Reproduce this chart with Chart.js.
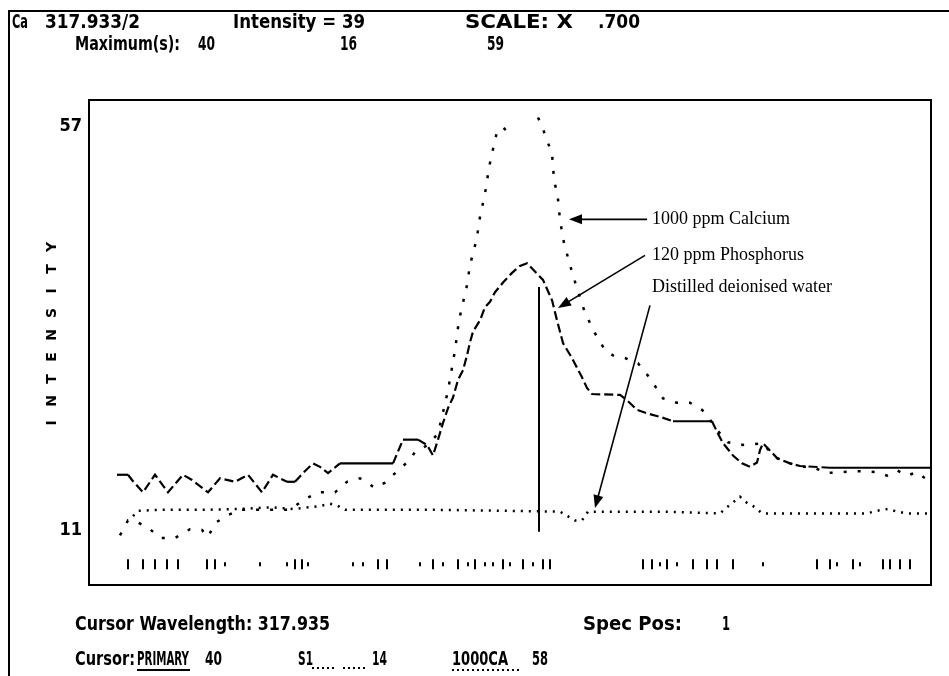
<!DOCTYPE html>
<html>
<head>
<meta charset="utf-8">
<script src="https://cdn.jsdelivr.net/npm/chart.js@4.4.1/dist/chart.umd.min.js"></script>
<style>
  html, body { margin: 0; padding: 0; background: #fff; }
  #wrap { width: 949px; height: 676px; position: relative; }
</style>
</head>
<body>
<div id="wrap"><canvas id="chart"></canvas></div>
<script>
// x = channel along the scan window, y = intensity
const caX = [31, 39, 48, 59, 71, 86, 101, 113, 119, 126, 139, 151, 176, 201, 214, 229, 246, 258, 271, 286, 296, 309, 321, 326, 339, 349, 353, 359, 363, 366, 370, 374, 378, 381, 388, 390, 395, 397, 400, 404, 408, 414, 419, 434, 449, 453, 459, 463, 465, 469, 471, 475, 481, 487, 495, 504, 516, 524, 536, 549, 561, 574, 588, 601, 613, 618, 628, 639, 654, 666, 674, 678, 688, 701, 711, 723, 738, 751, 771, 788, 798, 808, 818, 828, 836, 841];
const caY = [10.4, 12.1, 11.9, 11.3, 10.1, 10.1, 11.1, 11.0, 10.2, 11.8, 12.7, 13.3, 13.3, 13.3, 14.4, 15.3, 15.3, 16.5, 16.9, 15.8, 16.4, 17.8, 19.0, 19.9, 20.7, 22.0, 23.9, 26.9, 29.5, 31.5, 34.9, 36.9, 38.9, 41.2, 44.3, 46.1, 48.8, 50.0, 52.3, 54.4, 56.4, 56.9, 56.3, null, 58.0, 57.0, 55.1, 53.9, 51.0, 48.7, 46.3, 43.7, 41.2, 38.9, 36.1, 33.8, 31.5, 30.9, 30.6, 30.0, 28.3, 26.0, 25.5, 25.5, 24.7, 24.1, 22.4, 21.0, 20.7, 20.8, 20.9, 20.3, 19.2, 18.6, 18.2, 18.2, 17.5, 17.6, 17.7, 17.6, 17.2, 17.8, 17.2, 17.6, 16.9, 17.4];

const pX = [28, 39, 43, 54, 66, 79, 88, 94, 103, 119, 131, 146, 159, 173, 184, 198, 206, 214, 224, 231, 239, 251, 304, 314, 329, 338, 344, 349, 354, 359, 364, 369, 374, 378, 381, 384, 391, 396, 401, 406, 414, 423, 431, 438, 454, 463, 468, 474, 483, 493, 498, 503, 531, 538, 548, 558, 571, 584, 623, 628, 634, 644, 653, 661, 668, 671, 674, 679, 688, 701, 711, 741, 841];
const pY = [17.3, 17.3, 16.7, 15.3, 17.3, 15.3, 16.5, 17.3, 16.7, 15.3, 16.9, 16.5, 17.3, 15.3, 17.3, 16.5, 16.5, 17.5, 18.6, 18.2, 17.5, 18.6, 18.6, 21.3, 21.3, 20.7, 19.5, 21.3, 23.2, 24.9, 26.1, 28.1, 29.2, 30.9, 32.4, 33.6, 34.9, 36.4, 37.0, 38.1, 39.2, 40.3, 41.1, 41.4, 39.5, 37.2, 34.9, 32.3, 30.6, 28.4, 27.2, 26.5, 26.4, 25.8, 24.7, 24.3, 23.9, 23.4, 23.4, 22.2, 20.9, 19.5, 18.6, 18.2, 18.7, 20.1, 20.9, 20.3, 19.2, 18.6, 18.3, 18.1, 18.1];

const waterX = [44, 49, 71, 111, 151, 183, 193, 204, 229, 241, 248, 256, 351, 471, 486, 493, 499, 571, 631, 638, 651, 658, 666, 673, 778, 788, 799, 808, 818, 841];
const waterY = [12.6, 13.2, 13.3, 13.3, 13.4, 13.6, 13.5, 13.4, 13.7, 14.0, 13.8, 13.3, 13.3, 13.1, 12.1, 12.1, 13.1, 13.1, 12.9, 13.6, 14.8, 14.1, 13.6, 12.9, 12.9, 13.2, 13.4, 13.1, 12.9, 12.9];

const cursorX = 450;
const cursorSpan = [38.7, 10.8];

const markerRowY = 7.1;
const longMarkX = [39, 54, 66, 78, 89, 118, 126, 206, 213, 289, 298, 344, 369, 386, 414, 434, 454, 461, 554, 563, 578, 604, 618, 628, 644, 728, 741, 764, 794, 801, 811, 821];
const shortMarkX = [136, 171, 198, 219, 264, 274, 331, 354, 379, 396, 404, 421, 444, 571, 588, 674, 748, 771];

const yTickValues = [11, 57];

const calloutText = ['1000 ppm Calcium', '120 ppm Phosphorus', 'Distilled deionised water'];
const calloutAt = [[563, 46.4], [563, 42.3], [563, 38.7]];
const arrowFrom = [[558, 46.4], [556, 42.3], [561, 36.6]];
const arrowTo = [[480, 46.4], [469, 36.3], [506, 13.5]];

const pts = (xs, ys) => xs.map((x, i) => ({ x: x, y: ys[i] }));
const flat = (xs, y) => xs.map(x => ({ x: x, y: y }));

const dosFont = '"Liberation Sans Narrow", "DejaVu Sans Condensed", "Arial Narrow", sans-serif';

function fitText(ctx, text, x, y, width) {
    const w = ctx.measureText(text).width;
    ctx.save();
    ctx.translate(x, y);
    ctx.scale(width / w, 1);
    ctx.fillText(text, 0, 0);
    ctx.restore();
}

function arrow(ctx, x1, y1, x2, y2) {
    const a = Math.atan2(y2 - y1, x2 - x1);
    const len = 13, half = 5;
    ctx.beginPath();
    ctx.moveTo(x1, y1);
    ctx.lineTo(x2 - Math.cos(a) * len * 0.8, y2 - Math.sin(a) * len * 0.8);
    ctx.stroke();
    ctx.beginPath();
    ctx.moveTo(x2, y2);
    ctx.lineTo(x2 - Math.cos(a) * len - Math.sin(a) * half, y2 - Math.sin(a) * len + Math.cos(a) * half);
    ctx.lineTo(x2 - Math.cos(a) * len + Math.sin(a) * half, y2 - Math.sin(a) * len - Math.cos(a) * half);
    ctx.closePath();
    ctx.fill();
}

const screenText = {
    id: 'screenText',
    afterDraw(chart) {
        const ctx = chart.ctx;
        const area = chart.chartArea;
        const xs = chart.scales.x, ys = chart.scales.y;
        ctx.save();
        ctx.strokeStyle = '#000';
        ctx.fillStyle = '#000';

        // outer frame and plot box
        ctx.lineWidth = 2;
        ctx.beginPath();
        ctx.moveTo(9, 676);
        ctx.lineTo(9, 11);
        ctx.lineTo(949, 11);
        ctx.stroke();
        ctx.strokeRect(area.left, area.top, area.right - area.left, area.bottom - area.top);

        // header / footer readouts
        ctx.font = 'bold 19px ' + dosFont;
        ctx.textBaseline = 'middle';
        ctx.textAlign = 'left';
        fitText(ctx, 'Ca', 12, 23, 16);
        fitText(ctx, '317.933/2', 45, 23, 95);
        fitText(ctx, 'Intensity = 39', 233, 23, 132);
        fitText(ctx, 'SCALE: X', 465, 23, 108);
        fitText(ctx, '.700', 598, 23, 42);
        fitText(ctx, 'Maximum(s):', 75, 45, 105);
        fitText(ctx, '40', 198, 45, 17);
        fitText(ctx, '16', 340, 45, 17);
        fitText(ctx, '59', 487, 45, 17);

        fitText(ctx, 'Cursor Wavelength: 317.935', 75, 625, 255);
        fitText(ctx, 'Spec Pos:', 583, 625, 99);
        fitText(ctx, '1', 722, 625, 8);
        fitText(ctx, 'Cursor:', 75, 660, 60);
        fitText(ctx, 'PRIMARY', 137, 660, 52);
        fitText(ctx, '40', 205, 660, 17);
        fitText(ctx, 'S1', 298, 660, 15);
        fitText(ctx, '14', 372, 660, 15);
        fitText(ctx, '1000CA', 452, 660, 56);
        fitText(ctx, '58', 532, 660, 16);

        ctx.lineWidth = 2;
        ctx.beginPath();
        ctx.moveTo(137, 670); ctx.lineTo(190, 670);
        ctx.stroke();
        ctx.setLineDash([2, 3]);
        ctx.beginPath();
        ctx.moveTo(312, 668); ctx.lineTo(336, 668);
        ctx.moveTo(343, 668); ctx.lineTo(365, 668);
        ctx.moveTo(452, 670); ctx.lineTo(520, 670);
        ctx.stroke();
        ctx.setLineDash([]);

        // vertical axis title, letter-spaced
        const title = 'INTENSITY';
        ctx.font = 'bold 14px "DejaVu Sans", sans-serif';
        ctx.textAlign = 'center';
        ctx.save();
        ctx.translate(52, 335);
        ctx.rotate(-Math.PI / 2);
        const step = 22;
        for (let i = 0; i < title.length; i++) {
            ctx.fillText(title[i], (i - (title.length - 1) / 2) * step, 0);
        }
        ctx.restore();

        // callouts
        ctx.font = '18px "Liberation Serif", "DejaVu Serif", serif';
        ctx.textAlign = 'left';
        ctx.lineWidth = 1.6;
        calloutText.forEach((t, i) => {
            ctx.fillText(t, xs.getPixelForValue(calloutAt[i][0]), ys.getPixelForValue(calloutAt[i][1]));
            arrow(ctx,
                xs.getPixelForValue(arrowFrom[i][0]), ys.getPixelForValue(arrowFrom[i][1]),
                xs.getPixelForValue(arrowTo[i][0]), ys.getPixelForValue(arrowTo[i][1]));
        });
        ctx.restore();
    }
};

const ctx = document.getElementById('chart');

new Chart(ctx, {
    type: 'line',
    data: {
        datasets: [
            {
                label: 'Distilled deionised water',
                data: pts(waterX, waterY),
                borderColor: '#000',
                borderWidth: 2.5,
                borderDash: [2, 6],
                pointRadius: 0
            },
            {
                label: '120 ppm Phosphorus',
                data: pts(pX, pY),
                borderColor: '#000',
                borderWidth: 2.2,
                pointRadius: 0,
                segment: {
                    borderDash: c => c.p0.parsed.y === c.p1.parsed.y ? [] : [9, 4]
                }
            },
            {
                label: '1000 ppm Calcium',
                data: pts(caX, caY),
                borderColor: '#000',
                borderWidth: 2.5,
                borderDash: [3, 11],
                pointRadius: 0,
                spanGaps: false
            },
            {
                label: 'cursor',
                data: [{ x: cursorX, y: cursorSpan[0] }, { x: cursorX, y: cursorSpan[1] }],
                borderColor: '#000',
                borderWidth: 2,
                pointRadius: 0
            },
            {
                label: 'markers',
                data: flat(longMarkX, markerRowY),
                showLine: false,
                pointStyle: 'line',
                rotation: 90,
                pointRadius: 5,
                pointBorderWidth: 2,
                pointBorderColor: '#000'
            },
            {
                label: 'markers small',
                data: flat(shortMarkX, markerRowY),
                showLine: false,
                pointStyle: 'line',
                rotation: 90,
                pointRadius: 2,
                pointBorderWidth: 2,
                pointBorderColor: '#000'
            }
        ]
    },
    options: {
        responsive: true,
        maintainAspectRatio: false,
        devicePixelRatio: 1,
        animation: false,
        layout: { padding: { left: 0, top: 100, right: 18, bottom: 91 } },
        plugins: {
            legend: { display: false },
            tooltip: { enabled: false }
        },
        scales: {
            x: { type: 'linear', min: 0, max: 842, display: false },
            y: {
                type: 'linear',
                min: 4.74,
                max: 60,
                afterFit: s => { s.width = 89; },
                afterBuildTicks: s => { s.ticks = yTickValues.map(v => ({ value: v })); },
                grid: { display: false, drawTicks: false },
                border: { display: false },
                ticks: {
                    padding: 7,
                    color: '#000',
                    font: { family: dosFont, size: 18, weight: 'bold' }
                }
            }
        }
    },
    plugins: [screenText]
});
</script>
</body>
</html>
